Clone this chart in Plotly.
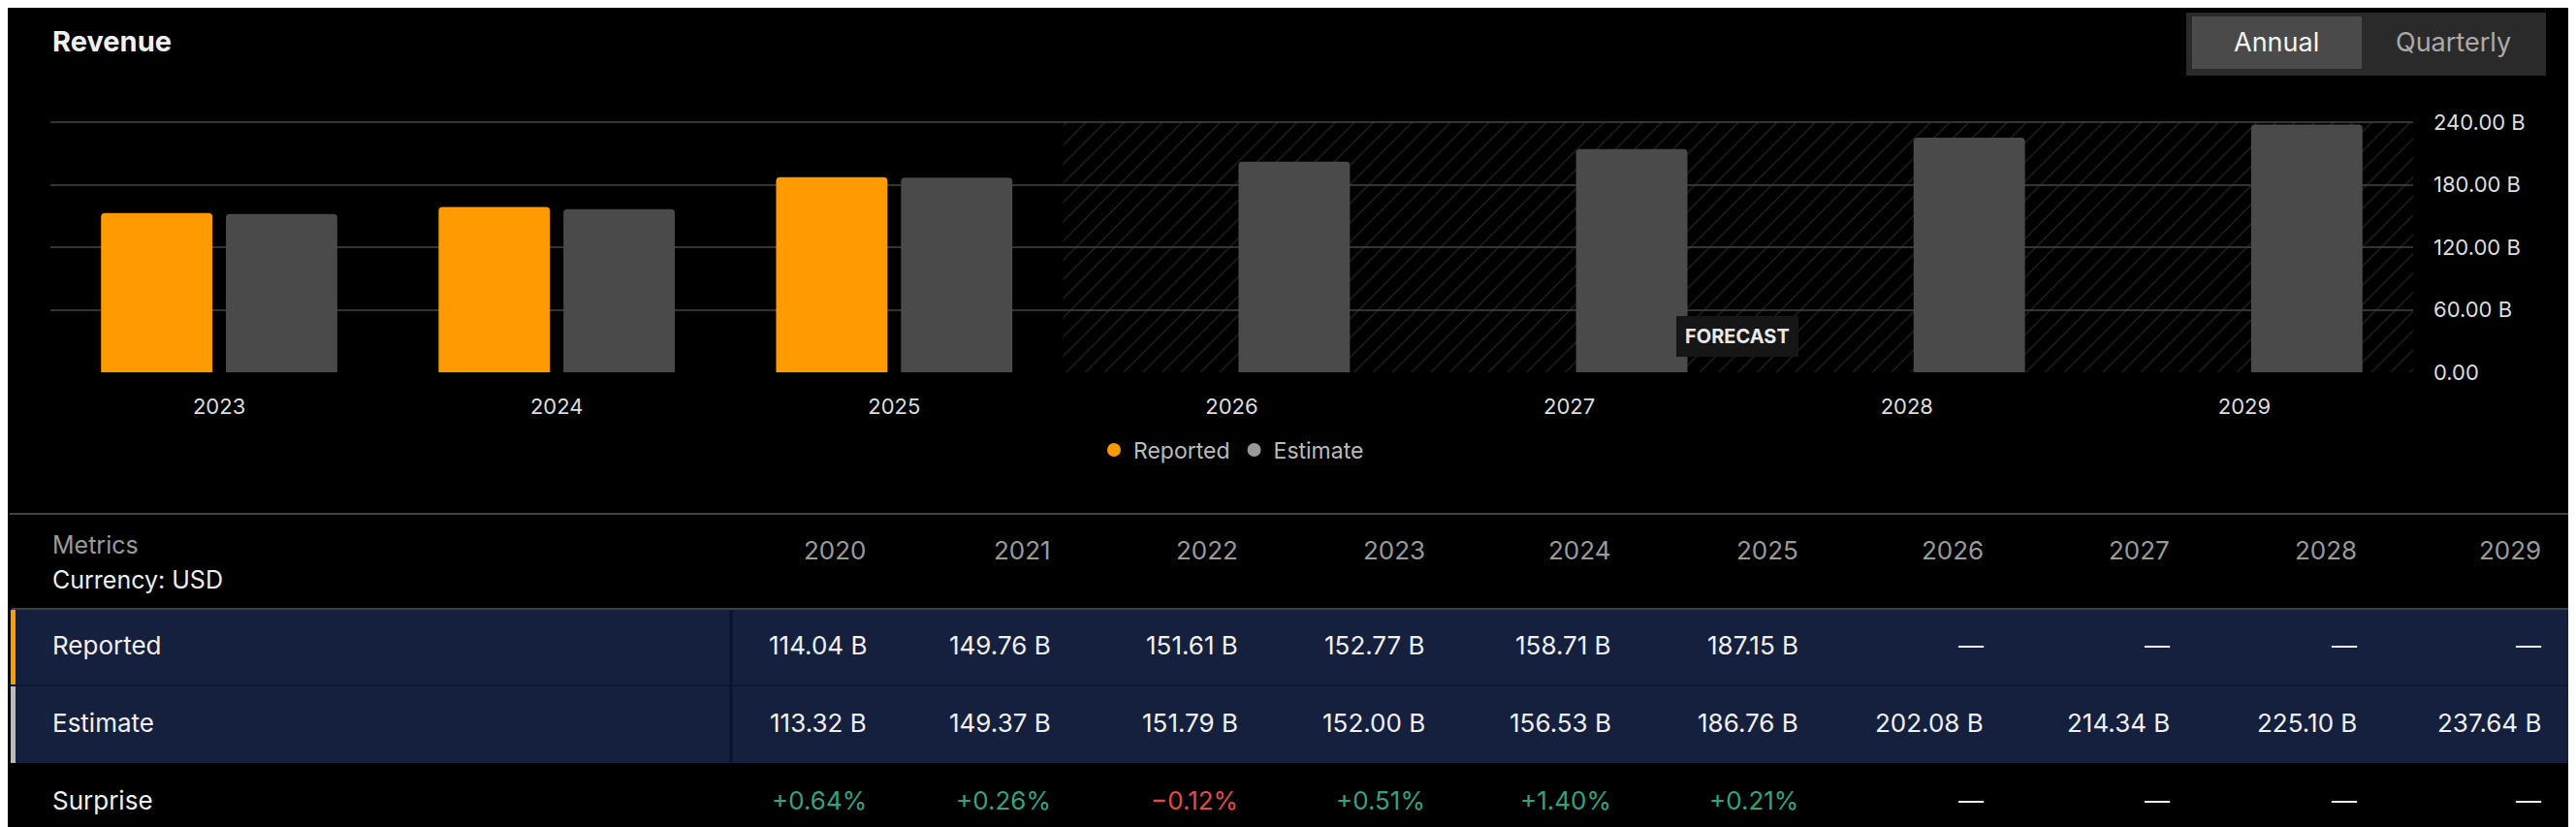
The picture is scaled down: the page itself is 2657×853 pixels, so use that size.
import plotly.graph_objects as go

# chart data (billions USD)
chart_years = ["2023", "2024", "2025", "2026", "2027", "2028", "2029"]
chart_reported = [152.77, 158.71, 187.15]
chart_estimate = [152.00, 156.53, 186.76, 202.08, 214.34, 225.10, 237.64]
y_ticks = [0, 60, 120, 180, 240]
y_tick_text = ["0.00", "60.00 B", "120.00 B", "180.00 B", "240.00 B"]

# table data
table_years = ["2020", "2021", "2022", "2023", "2024", "2025", "2026", "2027", "2028", "2029"]
table_reported = ["114.04 B", "149.76 B", "151.61 B", "152.77 B", "158.71 B", "187.15 B", "—", "—", "—", "—"]
table_estimate = ["113.32 B", "149.37 B", "151.79 B", "152.00 B", "156.53 B", "186.76 B",
                  "202.08 B", "214.34 B", "225.10 B", "237.64 B"]
table_surprise = ["+0.64%", "+0.26%", "−0.12%", "+0.51%", "+1.40%", "+0.21%", "—", "—", "—", "—"]

W, H = 2657, 853
L, R, T, B = 44, 2481, 117, 376
FONT = "Inter, Roboto, sans-serif"
ORANGE = "#ff9a00"
GRAY = "#4a4a4a"


def px_x(x):
    return (x - L) / (R - L)


def px_y(y):
    return (B - y) / (B - T)


def text(x, y, s, size, color, anchor="left", **kw):
    return dict(x=px_x(x), y=px_y(y), xref="paper", yref="paper", xanchor=anchor, yanchor="middle",
                text=s, showarrow=False, font=dict(size=size, color=color, family=FONT), **kw)


fig = go.Figure()

# forecast hatch area
fig.add_trace(go.Bar(
    x=[4.5], y=[240], width=[4], marker=dict(color="rgba(0,0,0,0)", line_width=0,
                                             pattern=dict(shape="/", fgcolor="#444444",
                                                          bgcolor="rgba(0,0,0,0)",
                                                          size=14, solidity=0.1)),
    showlegend=False, hoverinfo="skip"))

fig.add_trace(go.Bar(
    x=list(range(len(chart_reported))), y=chart_reported, width=0.33, offset=-0.35,
    marker=dict(color=ORANGE, line_width=0), showlegend=False, name="Reported"))
fig.add_trace(go.Bar(
    x=list(range(len(chart_estimate))), y=chart_estimate, width=0.33, offset=0.02,
    marker=dict(color=GRAY, line_width=0), showlegend=False, name="Estimate"))

# legend entries
fig.add_trace(go.Scatter(x=[None], y=[None], mode="markers", name="Reported",
                         marker=dict(color=ORANGE, size=14)))
fig.add_trace(go.Scatter(x=[None], y=[None], mode="markers", name="Estimate",
                         marker=dict(color="#9a9a9a", size=14)))

shapes = []
ann = []

# FORECAST badge
ann.append(text(1784, 339, "<b>FORECAST</b>", 20, "#e8e8e8", anchor="center",
                bgcolor="#161616", bordercolor="#161616", borderpad=8))

# title
ann.append(text(44, 34, "<b>Revenue</b>", 29, "#f0f0f0"))

# Annual / Quarterly toggle
shapes.append(dict(type="rect", xref="paper", yref="paper", x0=px_x(2247), x1=px_x(2618),
                   y0=px_y(5), y1=px_y(70), fillcolor="#2a2a2a", line_width=0, layer="above"))
shapes.append(dict(type="rect", xref="paper", yref="paper", x0=px_x(2253), x1=px_x(2428),
                   y0=px_y(9), y1=px_y(63), fillcolor="#4a4a4a", line_width=0, layer="above"))
ann.append(text(2340, 36, "Annual", 27, "#f5f5f5", anchor="center"))
ann.append(text(2522, 36, "Quarterly", 27, "#aaaaaa", anchor="center"))

# table separators and bands
shapes.append(dict(type="line", xref="paper", yref="paper", x0=px_x(2), x1=px_x(W),
                   y0=px_y(522), y1=px_y(522), line=dict(color="#444", width=2)))
shapes.append(dict(type="rect", xref="paper", yref="paper", x0=px_x(4), x1=px_x(W),
                   y0=px_y(620), y1=px_y(779), fillcolor="#15203f", line_width=0))
shapes.append(dict(type="line", xref="paper", yref="paper", x0=px_x(4), x1=px_x(W),
                   y0=px_y(620), y1=px_y(620), line=dict(color="#3a3f4c", width=2)))
shapes.append(dict(type="line", xref="paper", yref="paper", x0=px_x(4), x1=px_x(W),
                   y0=px_y(699), y1=px_y(699), line=dict(color="#0f1830", width=2)))
shapes.append(dict(type="line", xref="paper", yref="paper", x0=px_x(746), x1=px_x(746),
                   y0=px_y(621), y1=px_y(779), line=dict(color="#0d1428", width=3)))
shapes.append(dict(type="rect", xref="paper", yref="paper", x0=px_x(3), x1=px_x(8),
                   y0=px_y(621), y1=px_y(698), fillcolor=ORANGE, line_width=0))
shapes.append(dict(type="rect", xref="paper", yref="paper", x0=px_x(3), x1=px_x(8),
                   y0=px_y(700), y1=px_y(779), fillcolor="#bbbbbb", line_width=0))

ann.append(text(44, 554, "Metrics", 25, "#9a9a9a"))
ann.append(text(44, 590, "Currency: USD", 25, "#eeeeee"))

row_labels = ["Reported", "Estimate", "Surprise"]
row_y = [657, 737, 817]
for lbl, yy in zip(row_labels, row_y):
    ann.append(text(44, yy, lbl, 26, "#f0f0f0"))

col_right = [888, 1078, 1271, 1464, 1656, 1849, 2040, 2232, 2425, 2615]
for i, yr in enumerate(table_years):
    xr = col_right[i]
    ann.append(text(xr, 559, yr, 26, "#9a9a9a", anchor="right"))
    ann.append(text(xr, 657, table_reported[i], 26, "#f0f0f0", anchor="right"))
    ann.append(text(xr, 737, table_estimate[i], 26, "#f0f0f0", anchor="right"))
    s = table_surprise[i]
    c = "#f0f0f0" if s == "—" else ("#e5484d" if s.startswith("−") else "#30a47f")
    ann.append(text(xr, 817, s, 26, c, anchor="right"))

fig.update_layout(
    width=W, height=H,
    margin=dict(l=L, r=W - R, t=T, b=H - B),
    paper_bgcolor="#000", plot_bgcolor="#000",
    barmode="overlay", barcornerradius=4,
    font=dict(family=FONT, color="#dddddd"),
    shapes=shapes, annotations=ann,
    legend=dict(orientation="h", x=0.5, xanchor="center", y=px_y(456), yanchor="middle",
                font=dict(size=23, color="#bbbbbb"), itemwidth=30, bgcolor="rgba(0,0,0,0)"),
)
fig.update_xaxes(range=[-0.5, 6.5], tickvals=list(range(len(chart_years))), ticktext=chart_years,
                 showgrid=False, zeroline=False, ticks="", ticklabelstandoff=20,
                 tickfont=dict(size=22, color="#dddddd"), fixedrange=True)
fig.update_yaxes(range=[0, 241], side="right", tickvals=y_ticks, ticktext=y_tick_text,
                 gridcolor="#333", gridwidth=2, zeroline=False, ticklabelstandoff=20,
                 tickfont=dict(size=22, color="#dddddd"), fixedrange=True)

fig.write_html("out.html")
